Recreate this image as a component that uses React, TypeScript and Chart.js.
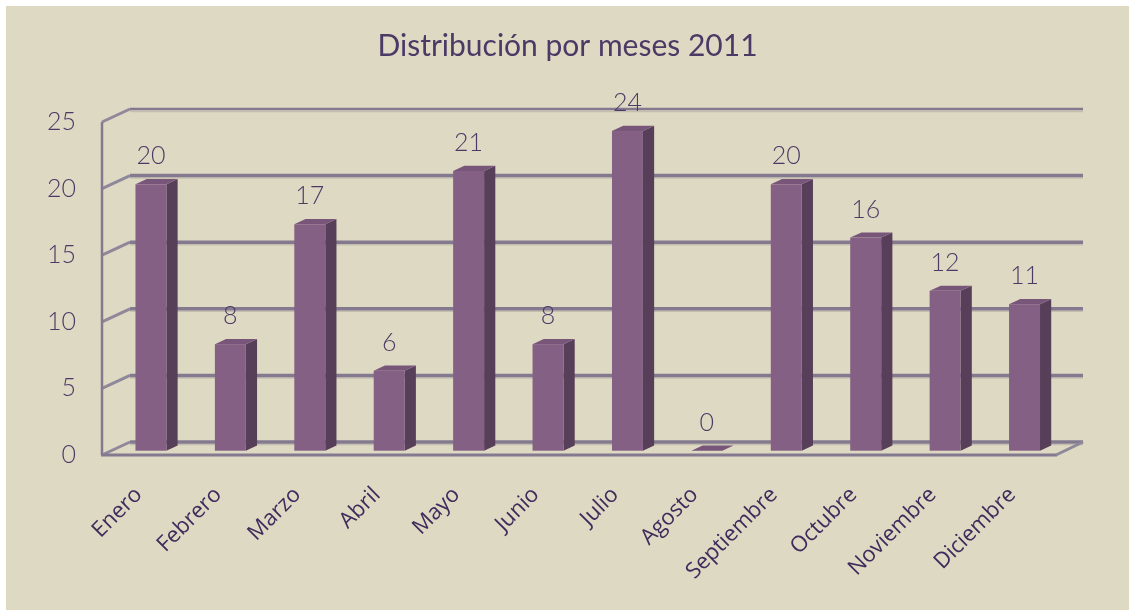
import React, { useEffect, useRef } from "react";
import { Chart, registerables } from "chart.js";

Chart.register(...registerables);

const categories = [
  "Enero", "Febrero", "Marzo", "Abril", "Mayo", "Junio",
  "Julio", "Agosto", "Septiembre", "Octubre", "Noviembre", "Diciembre",
];
const values = [20, 8, 17, 6, 21, 8, 24, 0, 20, 16, 12, 11];
const yTickValues = [0, 5, 10, 15, 20, 25];
const titleText = "Distribución por meses 2011";

const DX = 28;
const DY = 13;
const F0 = 0.33;
const F1 = 0.73;

const GRID_DARK = "#837a8f";
const GRID_LIGHT = "#c4beb0";
const BAR_FRONT = "#856085";
const BAR_SIDE = "#573e59";
const BAR_TOP = "#775679";
const TEXT = "#4a3a65";

const threeD = {
  id: "threeD",
  beforeDatasetsDraw(chart: any) {
    const { ctx, chartArea, scales } = chart;
    const { left, right } = chartArea;
    const y = scales.y;
    ctx.save();
    ctx.lineCap = "butt";
    y.ticks.forEach((t: any) => {
      const py = y.getPixelForValue(t.value);
      const by = py - DY;
      ctx.strokeStyle = GRID_LIGHT;
      ctx.lineWidth = 1.5;
      ctx.beginPath();
      ctx.moveTo(left + DX, by + 2.5);
      ctx.lineTo(right + DX, by + 2.5);
      ctx.stroke();
      ctx.strokeStyle = GRID_DARK;
      ctx.lineWidth = t.value === 25 ? 2.5 : 3.5;
      ctx.beginPath();
      ctx.moveTo(left + DX, by);
      ctx.lineTo(right + DX, by);
      ctx.stroke();
      ctx.lineWidth = 3;
      ctx.strokeStyle = "#8f889a";
      ctx.beginPath();
      ctx.moveTo(left, py);
      ctx.lineTo(left + DX, by);
      ctx.stroke();
    });
    const y0 = y.getPixelForValue(0);
    const yTop = y.getPixelForValue(y.max);
    ctx.strokeStyle = GRID_DARK;
    ctx.lineWidth = 2.5;
    ctx.beginPath();
    ctx.moveTo(left, yTop);
    ctx.lineTo(left, y0);
    ctx.stroke();
    ctx.lineWidth = 3;
    ctx.beginPath();
    ctx.moveTo(left - 1, y0);
    ctx.lineTo(right + 2, y0);
    ctx.stroke();
    ctx.strokeStyle = "#8f889a";
    ctx.beginPath();
    ctx.moveTo(right + 1, y0);
    ctx.lineTo(right + DX, y0 - DY);
    ctx.stroke();
    ctx.restore();
  },
  afterDatasetsDraw(chart: any) {
    const { ctx } = chart;
    const meta = chart.getDatasetMeta(0);
    const data = chart.data.datasets[0].data;
    const fdx = DX * F0, fdy = DY * F0;
    const ddx = DX * (F1 - F0), ddy = DY * (F1 - F0);
    ctx.save();
    meta.data.forEach((bar: any, i: number) => {
      const { x, y, base, width } = bar.getProps(["x", "y", "base", "width"], true);
      const x0 = x - width / 2 + fdx;
      const x1 = x0 + width;
      const yT = y - fdy;
      const yB = base - fdy;
      ctx.fillStyle = BAR_SIDE;
      ctx.beginPath();
      ctx.moveTo(x1, yT);
      ctx.lineTo(x1 + ddx, yT - ddy);
      ctx.lineTo(x1 + ddx, yB - ddy);
      ctx.lineTo(x1, yB);
      ctx.closePath();
      ctx.fill();
      ctx.fillStyle = BAR_TOP;
      ctx.beginPath();
      ctx.moveTo(x0, yT);
      ctx.lineTo(x0 + ddx, yT - ddy);
      ctx.lineTo(x1 + ddx, yT - ddy);
      ctx.lineTo(x1, yT);
      ctx.closePath();
      ctx.fill();
      ctx.fillStyle = BAR_FRONT;
      ctx.fillRect(x0, yT, width, yB - yT);
      ctx.fillStyle = TEXT;
      ctx.font = "300 25px Lato";
      ctx.textAlign = "center";
      ctx.textBaseline = "alphabetic";
      ctx.fillText(String(data[i]), x0 + width / 2, yT - 20);
    });
    ctx.restore();
  },
};

export default function App() {
  const ref = useRef<HTMLCanvasElement>(null);
  useEffect(() => {
    if (!ref.current) return;
    const chart = new Chart(ref.current, {
      type: "bar",
      data: {
        labels: categories,
        datasets: [
          {
            label: "2011",
            data: values,
            backgroundColor: "rgba(0,0,0,0)",
            borderWidth: 0,
            barPercentage: 0.39,
            categoryPercentage: 1,
            yAxisID: "y",
          },
        ],
      },
      options: {
        animation: false,
        responsive: false,
        layout: { padding: { left: 0, right: 0, top: 0, bottom: 0 } },
        plugins: {
          legend: { display: false },
          tooltip: { enabled: false },
          title: {
            display: true,
            text: titleText,
            color: TEXT,
            font: { family: "Lato", size: 30, weight: "normal", lineHeight: 1.2 },
            padding: { top: 22, bottom: 58 },
          },
        },
        scales: {
          x: {
            grid: { display: false },
            border: { display: false },
            ticks: {
              color: "#3d2c5c",
              font: { family: "Open Sans", size: 22 },
              minRotation: 45,
              maxRotation: 45,
              padding: 19,
              labelOffset: -3,
              autoSkip: false,
            },
            afterFit: (s: any) => {
              s.height = 155;
            },
          },
          y: {
            min: 0,
            max: 25,
            position: "left",
            grid: { display: false },
            border: { display: false },
            ticks: {
              stepSize: 5,
              color: TEXT,
              font: { family: "Lato", size: 25, weight: "300" },
              padding: 18,
              callback: (v: any) => (yTickValues.includes(v) ? String(v) : ""),
            },
            afterFit: (s: any) => {
              s.width = 96;
            },
          },
          yRight: {
            position: "right",
            min: 0,
            max: 25,
            grid: { display: false },
            border: { display: false },
            ticks: { display: false },
            afterFit: (s: any) => {
              s.width = 74;
            },
          },
        },
      },
      plugins: [threeD],
    });
    return () => chart.destroy();
  }, []);
  return (
    <div
      style={{
        position: "fixed",
        left: 6,
        top: 6,
        width: 1123,
        height: 604,
        background: "#ded9c3",
      }}
    >
      <canvas ref={ref} width={1123} height={604} style={{ display: "block" }} />
    </div>
  );
}
